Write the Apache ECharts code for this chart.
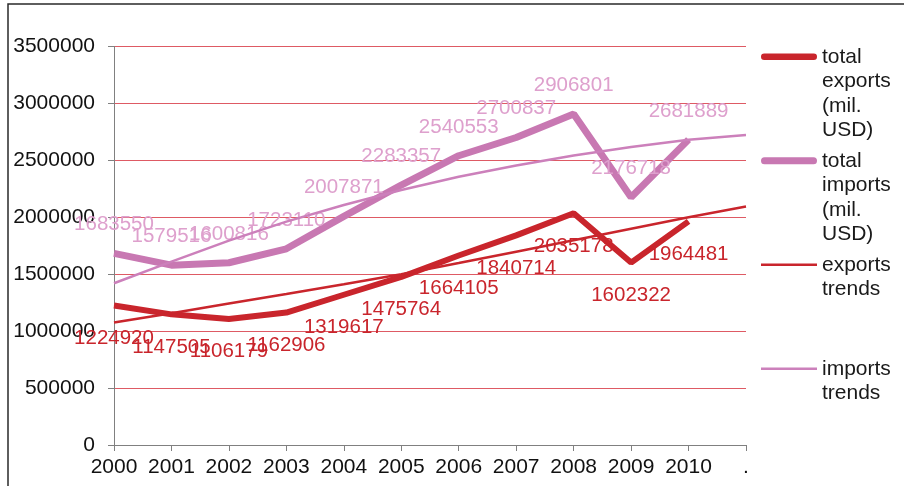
<!DOCTYPE html>
<html>
<head>
<meta charset="utf-8">
<script src="https://cdn.jsdelivr.net/npm/echarts@6/dist/echarts.min.js"></script>
<style>
html,body{margin:0;padding:0;background:#fff;}
#c{width:904px;height:486px;}
</style>
</head>
<body>
<div id="c"></div>
<script>
var years = ['2000','2001','2002','2003','2004','2005','2006','2007','2008','2009','2010','.'];
var totalExports = [1224920,1147505,1106179,1162906,1319617,1475764,1664105,1840714,2035178,1602322,1964481];
var totalImports = [1683550,1579516,1600816,1723110,2007871,2283357,2540553,2700837,2906801,2176718,2681889];
var exportsTrend = [1076000,1158000,1242000,1326000,1412000,1500000,1598000,1698000,1798000,1899000,2000000,2094000];
var importsTrend = [1421000,1610000,1795000,1962000,2108000,2240000,2356000,2455000,2543000,2618000,2680000,2722000];
var seriesNames = ['total exports (mil. USD)','total imports (mil. USD)','exports trends','imports trends'];

var RED = '#C9252C', PINK = '#C878B2', PINK_T = '#CC80BB', PINK_LBL = '#DEA0CD';
var FONT = '"Liberation Sans", Arial, sans-serif';

var chart = echarts.init(document.getElementById('c'), null, {renderer:'canvas'});

function iconPath(thick, cy, round){
  var h = thick/2, y0 = cy - h, y1 = cy + h;
  var body;
  if (round) {
    body = 'M'+h+','+y0+' L'+(56-h)+','+y0+' A'+h+','+h+' 0 0 1 '+(56-h)+','+y1+' L'+h+','+y1+' A'+h+','+h+' 0 0 1 '+h+','+y0+' Z';
  } else {
    body = 'M0,'+y0+' L56,'+y0+' L56,'+y1+' L0,'+y1+' Z';
  }
  return 'path://M0,0 L0.01,0 L0,0.01 Z M56,100 L55.99,100 L56,99.99 Z ' + body;
}

var option = {
  animation:false,
  textStyle:{fontFamily:FONT},
  graphic:[{type:'rect', shape:{x:8, y:4, width:1000, height:1000}, style:{fill:'none', stroke:'#2a2a2a', lineWidth:1.5}, silent:true}],
  grid:{left:114, right:158, top:46.5, bottom:41, containLabel:false},
  legend:{
    orient:'vertical', left:761, top:43.5, padding:0,
    itemWidth:56, itemHeight:100, itemGap:4,
    textStyle:{fontFamily:FONT, fontSize:21, color:'#1a1a1a', lineHeight:24.5},
    formatter:function(name){ var w = name.split(' '); while (w.length<4) w.push(''); return w.join('\n'); },
    data:[
      {name:seriesNames[0], icon:iconPath(6.5,13.25,true), itemStyle:{color:RED, borderWidth:0}},
      {name:seriesNames[1], icon:iconPath(7,13.25,true), itemStyle:{color:PINK, borderWidth:0}},
      {name:seriesNames[2], icon:iconPath(2.5,13.25,false), itemStyle:{color:RED, borderWidth:0}},
      {name:seriesNames[3], icon:iconPath(2.5,13.25,false), itemStyle:{color:PINK_T, borderWidth:0}}
    ]
  },
  xAxis:{
    type:'category', data:years, boundaryGap:false,
    axisLine:{lineStyle:{color:'#808080', width:1}},
    axisTick:{show:true, length:6, lineStyle:{color:'#808080'}},
    axisLabel:{fontFamily:FONT, fontSize:21, color:'#111', margin:12, interval:0}
  },
  yAxis:{
    type:'value', min:0, max:3500000, interval:500000,
    axisLine:{show:true, lineStyle:{color:'#808080', width:1}},
    axisTick:{show:true, length:6, lineStyle:{color:'#808080'}},
    axisLabel:{fontFamily:FONT, fontSize:21, color:'#111', margin:19, formatter:function(v){return String(v);}},
    splitLine:{show:true, lineStyle:{color:'#DE5A64', width:1}}
  },
  series:[
    {name:seriesNames[0], type:'line', data:totalExports, symbol:'circle', symbolSize:0.5, showSymbol:true,
     itemStyle:{color:RED}, lineStyle:{color:RED, width:6}, z:3,
     label:{show:true, position:'bottom', distance:22, fontFamily:FONT, fontSize:20.5, color:RED}},
    {name:seriesNames[1], type:'line', data:totalImports, symbol:'circle', symbolSize:0.5, showSymbol:true,
     itemStyle:{color:PINK}, lineStyle:{color:PINK, width:7}, z:3,
     label:{show:true, position:'top', distance:18, fontFamily:FONT, fontSize:20.5, color:PINK_LBL}},
    {name:seriesNames[2], type:'line', data:exportsTrend, symbol:'none', showSymbol:false,
     itemStyle:{color:RED}, lineStyle:{color:RED, width:2.5}, z:4},
    {name:seriesNames[3], type:'line', data:importsTrend, symbol:'none', showSymbol:false,
     itemStyle:{color:PINK_T}, lineStyle:{color:PINK_T, width:2.5}, z:4}
  ]
};
chart.setOption(option);
</script>
</body>
</html>
